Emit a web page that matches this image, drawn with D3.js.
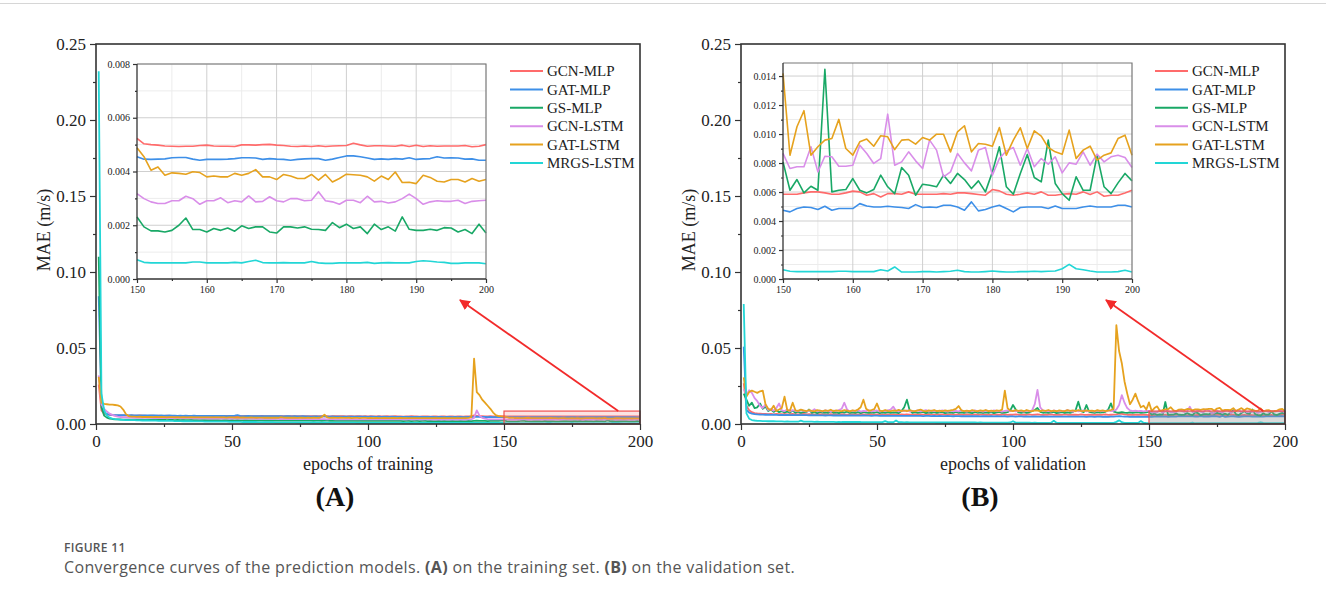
<!DOCTYPE html>
<html>
<head>
<meta charset="utf-8">
<script src="https://cdn.jsdelivr.net/npm/d3@7"></script>
<style>
  body { margin: 0; background: #fff; }
  svg { display: block; }
</style>
</head>
<body>
<svg id="fig" width="1326" height="603"></svg>
<script>
// ---- categories, ticks and labels ----
const seriesNames = ["GCN-MLP", "GAT-MLP", "GS-MLP", "GCN-LSTM", "GAT-LSTM", "MRGS-LSTM"];
const seriesColors = ["#ff6b6b", "#3d8fe8", "#19a866", "#d98ee9", "#e6a21e", "#22d6d6"];
const mainXTicks = [0, 50, 100, 150, 200];
const mainXMinor = [25, 75, 125, 175];
const mainYTicks = [0, 0.05, 0.10, 0.15, 0.20, 0.25];
const mainYMinor = [0.025, 0.075, 0.125, 0.175, 0.225];
const insetXTicks = [150, 160, 170, 180, 190, 200];
const insetXMinor = [155, 165, 175, 185, 195];
const insetYTicksA = [0, 0.002, 0.004, 0.006, 0.008];
const insetYMinorA = [0.001, 0.003, 0.005, 0.007];
const insetYTicksB = [0, 0.002, 0.004, 0.006, 0.008, 0.010, 0.012, 0.014];
const insetYMinorB = [0.001, 0.003, 0.005, 0.007, 0.009, 0.011, 0.013];
const epochs = d3.range(1, 201); // epoch numbers 1..200

// ---- MAE (m/s) per epoch, training set ----
const trainGcnMlp = [
0.0260,0.0090,0.0068,0.0062,0.0060,0.0058,0.0057,0.0057,0.0056,0.0056,
0.0056,0.0055,0.0056,0.0055,0.0055,0.0056,0.0055,0.0055,0.0054,0.0055,
0.0055,0.0054,0.0055,0.0054,0.0054,0.0055,0.0054,0.0054,0.0053,0.0054,
0.0054,0.0053,0.0054,0.0054,0.0053,0.0054,0.0053,0.0053,0.0054,0.0053,
0.0053,0.0053,0.0052,0.0053,0.0053,0.0052,0.0053,0.0053,0.0052,0.0053,
0.0052,0.0053,0.0052,0.0052,0.0053,0.0052,0.0052,0.0051,0.0052,0.0052,
0.0053,0.0052,0.0052,0.0051,0.0052,0.0052,0.0051,0.0052,0.0052,0.0051,
0.0052,0.0051,0.0052,0.0052,0.0051,0.0051,0.0052,0.0051,0.0051,0.0052,
0.0051,0.0051,0.0052,0.0051,0.0051,0.0050,0.0051,0.0051,0.0052,0.0051,
0.0051,0.0050,0.0051,0.0051,0.0050,0.0051,0.0051,0.0050,0.0051,0.0050,
0.0051,0.0050,0.0050,0.0051,0.0050,0.0050,0.0051,0.0050,0.0050,0.0051,
0.0050,0.0050,0.0049,0.0050,0.0050,0.0051,0.0050,0.0050,0.0049,0.0050,
0.0050,0.0050,0.0049,0.0050,0.0050,0.0049,0.0050,0.0050,0.0049,0.0050,
0.0050,0.0049,0.0050,0.0050,0.0049,0.0050,0.0050,0.0051,0.0056,0.0054,
0.0052,0.0051,0.0050,0.0050,0.0051,0.0050,0.0050,0.0051,0.0051,
0.00523,0.00503,0.00500,0.00498,0.00495,0.00494,0.00493,0.00494,0.00494,0.00497,
0.00498,0.00495,0.00494,0.00494,0.00493,0.00499,0.00499,0.00498,0.00500,0.00501,
0.00498,0.00497,0.00494,0.00493,0.00495,0.00493,0.00496,0.00493,0.00495,0.00496,
0.00497,0.00505,0.00499,0.00494,0.00496,0.00496,0.00495,0.00494,0.00498,0.00493,
0.00498,0.00493,0.00496,0.00494,0.00495,0.00495,0.00495,0.00497,0.00492,0.00494,0.00500];

const trainGatMlp = [
0.0840,0.0130,0.0078,0.0066,0.0062,0.0060,0.0059,0.0059,0.0058,0.0058,
0.0058,0.0057,0.0058,0.0057,0.0057,0.0057,0.0056,0.0057,0.0056,0.0056,
0.0056,0.0056,0.0055,0.0056,0.0055,0.0055,0.0056,0.0055,0.0055,0.0054,
0.0055,0.0054,0.0055,0.0054,0.0054,0.0055,0.0054,0.0054,0.0053,0.0054,
0.0053,0.0054,0.0053,0.0053,0.0054,0.0053,0.0053,0.0052,0.0053,0.0053,
0.0055,0.0058,0.0053,0.0052,0.0052,0.0053,0.0052,0.0052,0.0051,0.0052,
0.0052,0.0051,0.0052,0.0051,0.0051,0.0052,0.0051,0.0051,0.0050,0.0051,
0.0051,0.0050,0.0051,0.0050,0.0050,0.0051,0.0050,0.0050,0.0049,0.0050,
0.0050,0.0049,0.0050,0.0050,0.0049,0.0049,0.0050,0.0049,0.0049,0.0048,
0.0049,0.0049,0.0048,0.0049,0.0048,0.0048,0.0049,0.0048,0.0048,0.0047,
0.0048,0.0048,0.0047,0.0048,0.0047,0.0048,0.0047,0.0047,0.0048,0.0047,
0.0047,0.0046,0.0047,0.0047,0.0046,0.0047,0.0046,0.0046,0.0047,0.0046,
0.0046,0.0047,0.0046,0.0046,0.0045,0.0046,0.0046,0.0045,0.0046,0.0046,
0.0045,0.0046,0.0045,0.0046,0.0045,0.0045,0.0046,0.0046,0.0047,0.0048,
0.0047,0.0046,0.0046,0.0045,0.0046,0.0045,0.0045,0.0046,0.0045,
0.00455,0.00446,0.00445,0.00446,0.00447,0.00451,0.00452,0.00452,0.00446,0.00442,
0.00445,0.00445,0.00445,0.00446,0.00448,0.00451,0.00451,0.00450,0.00445,0.00448,
0.00446,0.00445,0.00442,0.00445,0.00447,0.00448,0.00448,0.00442,0.00446,0.00452,
0.00458,0.00458,0.00455,0.00450,0.00445,0.00447,0.00445,0.00448,0.00446,0.00451,
0.00445,0.00447,0.00448,0.00455,0.00450,0.00451,0.00450,0.00446,0.00447,0.00442,0.00442];

const trainGsMlp = [
0.1100,0.0110,0.0055,0.0042,0.0036,0.0033,0.0031,0.0030,0.0030,0.0029,
0.0029,0.0028,0.0029,0.0028,0.0028,0.0029,0.0028,0.0027,0.0028,0.0028,
0.0027,0.0028,0.0027,0.0027,0.0028,0.0026,0.0027,0.0027,0.0026,0.0027,
0.0026,0.0027,0.0026,0.0026,0.0027,0.0025,0.0026,0.0026,0.0025,0.0026,
0.0025,0.0026,0.0025,0.0025,0.0026,0.0024,0.0025,0.0025,0.0024,0.0025,
0.0024,0.0025,0.0024,0.0024,0.0025,0.0023,0.0024,0.0024,0.0023,0.0024,
0.0024,0.0023,0.0024,0.0023,0.0023,0.0024,0.0022,0.0023,0.0023,0.0022,
0.0023,0.0023,0.0022,0.0023,0.0022,0.0022,0.0023,0.0022,0.0022,0.0021,
0.0022,0.0022,0.0021,0.0022,0.0022,0.0021,0.0022,0.0021,0.0021,0.0022,
0.0021,0.0021,0.0022,0.0020,0.0021,0.0021,0.0020,0.0021,0.0021,0.0020,
0.0021,0.0020,0.0021,0.0020,0.0020,0.0021,0.0020,0.0020,0.0021,0.0020,
0.0020,0.0021,0.0019,0.0020,0.0020,0.0019,0.0020,0.0020,0.0019,0.0020,
0.0020,0.0019,0.0020,0.0019,0.0019,0.0020,0.0019,0.0020,0.0019,0.0019,
0.0020,0.0019,0.0019,0.0020,0.0019,0.0019,0.0020,0.0019,0.0021,0.0022,
0.0021,0.0020,0.0020,0.0019,0.0020,0.0021,0.0020,0.0021,0.0022,
0.00231,0.00194,0.00179,0.00179,0.00175,0.00181,0.00200,0.00227,0.00184,0.00184,
0.00175,0.00188,0.00181,0.00190,0.00178,0.00198,0.00188,0.00194,0.00194,0.00175,
0.00171,0.00194,0.00194,0.00190,0.00194,0.00185,0.00184,0.00181,0.00210,0.00191,
0.00204,0.00188,0.00194,0.00169,0.00204,0.00184,0.00194,0.00178,0.00231,0.00185,
0.00181,0.00181,0.00185,0.00181,0.00191,0.00190,0.00175,0.00184,0.00169,0.00204,0.00171];

const trainGcnLstm = [
0.0320,0.0130,0.0100,0.0082,0.0068,0.0060,0.0053,0.0048,0.0046,0.0044,
0.0043,0.0042,0.0042,0.0041,0.0041,0.0042,0.0040,0.0040,0.0041,0.0040,
0.0039,0.0040,0.0039,0.0039,0.0040,0.0038,0.0039,0.0038,0.0039,0.0038,
0.0038,0.0037,0.0038,0.0038,0.0037,0.0038,0.0037,0.0036,0.0037,0.0037,
0.0036,0.0037,0.0036,0.0036,0.0037,0.0035,0.0036,0.0036,0.0035,0.0036,
0.0035,0.0036,0.0035,0.0035,0.0034,0.0035,0.0035,0.0034,0.0035,0.0034,
0.0034,0.0035,0.0034,0.0034,0.0033,0.0034,0.0034,0.0033,0.0034,0.0033,
0.0033,0.0034,0.0033,0.0033,0.0032,0.0033,0.0033,0.0032,0.0033,0.0032,
0.0032,0.0033,0.0032,0.0032,0.0031,0.0032,0.0032,0.0031,0.0032,0.0031,
0.0031,0.0032,0.0031,0.0031,0.0032,0.0030,0.0031,0.0031,0.0030,0.0031,
0.0031,0.0030,0.0031,0.0030,0.0030,0.0031,0.0030,0.0030,0.0031,0.0030,
0.0030,0.0031,0.0030,0.0029,0.0030,0.0030,0.0029,0.0030,0.0030,0.0029,
0.0030,0.0030,0.0029,0.0030,0.0029,0.0029,0.0030,0.0029,0.0030,0.0029,
0.0029,0.0030,0.0029,0.0030,0.0029,0.0029,0.0030,0.0031,0.0040,0.0090,
0.0055,0.0040,0.0035,0.0032,0.0031,0.0030,0.0031,0.0030,0.0031,
0.00318,0.00299,0.00287,0.00281,0.00281,0.00291,0.00291,0.00308,0.00299,0.00278,
0.00291,0.00291,0.00302,0.00284,0.00291,0.00287,0.00309,0.00287,0.00289,0.00306,
0.00291,0.00287,0.00299,0.00299,0.00291,0.00293,0.00325,0.00291,0.00287,0.00278,
0.00293,0.00293,0.00284,0.00308,0.00287,0.00289,0.00283,0.00287,0.00299,0.00316,
0.00299,0.00278,0.00287,0.00291,0.00289,0.00289,0.00293,0.00281,0.00289,0.00291,0.00293];

const trainGatLstm = [
0.0310,0.0140,0.0132,0.0130,0.0128,0.0127,0.0125,0.0122,0.0115,0.0095,
0.0065,0.0052,0.0049,0.0048,0.0047,0.0048,0.0046,0.0047,0.0046,0.0046,
0.0045,0.0046,0.0045,0.0046,0.0045,0.0044,0.0045,0.0045,0.0044,0.0045,
0.0044,0.0045,0.0044,0.0044,0.0045,0.0043,0.0044,0.0044,0.0043,0.0044,
0.0043,0.0044,0.0043,0.0044,0.0043,0.0043,0.0044,0.0042,0.0043,0.0043,
0.0042,0.0043,0.0042,0.0043,0.0042,0.0042,0.0043,0.0042,0.0041,0.0042,
0.0042,0.0041,0.0042,0.0041,0.0042,0.0041,0.0041,0.0045,0.0042,0.0041,
0.0041,0.0042,0.0041,0.0040,0.0041,0.0041,0.0040,0.0041,0.0040,0.0041,
0.0040,0.0041,0.0046,0.0062,0.0044,0.0040,0.0041,0.0040,0.0040,0.0041,
0.0040,0.0040,0.0041,0.0039,0.0040,0.0040,0.0039,0.0040,0.0040,0.0039,
0.0040,0.0039,0.0040,0.0039,0.0039,0.0040,0.0039,0.0039,0.0040,0.0039,
0.0039,0.0040,0.0039,0.0038,0.0039,0.0039,0.0038,0.0039,0.0039,0.0038,
0.0039,0.0038,0.0039,0.0038,0.0038,0.0039,0.0038,0.0039,0.0038,0.0038,
0.0039,0.0038,0.0038,0.0039,0.0038,0.0039,0.0040,0.0045,0.0430,0.0210,
0.0190,0.0160,0.0140,0.0120,0.0100,0.0075,0.0058,0.0052,0.0050,
0.00488,0.00455,0.00405,0.00417,0.00386,0.00395,0.00393,0.00390,0.00399,0.00396,
0.00380,0.00383,0.00380,0.00380,0.00393,0.00386,0.00393,0.00407,0.00380,0.00380,
0.00370,0.00389,0.00383,0.00374,0.00374,0.00389,0.00368,0.00389,0.00361,0.00374,
0.00390,0.00388,0.00386,0.00380,0.00364,0.00383,0.00370,0.00398,0.00359,0.00360,
0.00355,0.00386,0.00378,0.00364,0.00361,0.00370,0.00370,0.00361,0.00374,0.00364,0.00370];

const trainMrgsLstm = [
0.2320,0.0200,0.0090,0.0055,0.0042,0.0036,0.0032,0.0030,0.0028,0.0027,
0.0026,0.0026,0.0025,0.0025,0.0024,0.0024,0.0023,0.0023,0.0023,0.0022,
0.0022,0.0022,0.0021,0.0021,0.0021,0.0020,0.0020,0.0020,0.0019,0.0019,
0.0019,0.0018,0.0018,0.0018,0.0018,0.0017,0.0017,0.0017,0.0017,0.0016,
0.0016,0.0016,0.0016,0.0015,0.0015,0.0015,0.0015,0.0015,0.0014,0.0014,
0.0014,0.0014,0.0014,0.0013,0.0013,0.0013,0.0013,0.0013,0.0013,0.0012,
0.0012,0.0012,0.0012,0.0012,0.0012,0.0011,0.0011,0.0011,0.0011,0.0011,
0.0011,0.0011,0.0011,0.0010,0.0010,0.0010,0.0010,0.0010,0.0010,0.0010,
0.0010,0.0010,0.0009,0.0010,0.0009,0.0009,0.0009,0.0009,0.0009,0.0009,
0.0009,0.0009,0.0009,0.0009,0.0009,0.0008,0.0009,0.0008,0.0008,0.0008,
0.0008,0.0008,0.0008,0.0008,0.0008,0.0008,0.0008,0.0008,0.0008,0.0008,
0.0008,0.0008,0.0008,0.0007,0.0008,0.0008,0.0008,0.0007,0.0008,0.0008,
0.0007,0.0008,0.0007,0.0008,0.0007,0.0008,0.0007,0.0007,0.0008,0.0007,
0.0007,0.0008,0.0007,0.0007,0.0008,0.0007,0.0007,0.0007,0.0008,0.0008,
0.0007,0.0007,0.0008,0.0007,0.0007,0.0007,0.0007,0.0008,0.0007,
0.00072,0.00062,0.00060,0.00060,0.00060,0.00060,0.00060,0.00060,0.00063,0.00063,
0.00060,0.00060,0.00060,0.00060,0.00062,0.00060,0.00065,0.00070,0.00061,0.00060,
0.00060,0.00061,0.00060,0.00060,0.00060,0.00065,0.00060,0.00058,0.00058,0.00060,
0.00060,0.00060,0.00060,0.00062,0.00058,0.00060,0.00061,0.00060,0.00060,0.00060,
0.00065,0.00068,0.00066,0.00063,0.00062,0.00058,0.00058,0.00060,0.00060,0.00060,0.00057];

// ---- MAE (m/s) per epoch, validation set ----
const valGcnMlp = [
0.0268,0.0120,0.0090,0.0078,0.0072,0.0069,0.0068,0.0066,0.0067,0.0065,
0.0066,0.0064,0.0067,0.0065,0.0064,0.0066,0.0063,0.0065,0.0066,0.0064,
0.0063,0.0065,0.0066,0.0063,0.0064,0.0065,0.0062,0.0064,0.0065,0.0063,
0.0064,0.0062,0.0065,0.0063,0.0064,0.0062,0.0065,0.0063,0.0062,0.0064,
0.0063,0.0065,0.0062,0.0063,0.0064,0.0061,0.0063,0.0064,0.0062,0.0063,
0.0062,0.0064,0.0061,0.0063,0.0062,0.0064,0.0062,0.0061,0.0063,0.0062,
0.0064,0.0061,0.0062,0.0063,0.0061,0.0064,0.0062,0.0061,0.0063,0.0062,
0.0061,0.0063,0.0062,0.0064,0.0061,0.0062,0.0063,0.0061,0.0062,0.0064,
0.0062,0.0061,0.0063,0.0062,0.0060,0.0063,0.0061,0.0062,0.0064,0.0061,
0.0062,0.0060,0.0063,0.0061,0.0062,0.0061,0.0063,0.0060,0.0062,0.0061,
0.0063,0.0061,0.0060,0.0062,0.0061,0.0063,0.0060,0.0062,0.0064,0.0061,
0.0060,0.0062,0.0061,0.0063,0.0060,0.0061,0.0062,0.0060,0.0063,0.0061,
0.0060,0.0062,0.0061,0.0060,0.0063,0.0061,0.0060,0.0062,0.0061,0.0060,
0.0062,0.0060,0.0061,0.0063,0.0060,0.0061,0.0062,0.0064,0.0068,0.0066,
0.0063,0.0061,0.0062,0.0060,0.0061,0.0062,0.0060,0.0061,0.0060,
0.00585,0.00585,0.00585,0.00594,0.00601,0.00601,0.00594,0.00585,0.00585,0.00594,
0.00606,0.00601,0.00578,0.00589,0.00566,0.00589,0.00589,0.00585,0.00601,0.00585,
0.00585,0.00585,0.00585,0.00589,0.00585,0.00594,0.00594,0.00589,0.00583,0.00578,
0.00617,0.00608,0.00585,0.00578,0.00585,0.00594,0.00585,0.00601,0.00578,0.00578,
0.00585,0.00589,0.00585,0.00601,0.00583,0.00601,0.00571,0.00578,0.00578,0.00594,0.00612];

const valGatMlp = [
0.0509,0.0092,0.0075,0.0068,0.0065,0.0063,0.0062,0.0062,0.0061,0.0061,
0.0060,0.0061,0.0060,0.0059,0.0060,0.0059,0.0060,0.0059,0.0058,0.0059,
0.0058,0.0059,0.0058,0.0058,0.0057,0.0058,0.0057,0.0058,0.0057,0.0057,
0.0056,0.0057,0.0057,0.0056,0.0057,0.0056,0.0056,0.0057,0.0055,0.0056,
0.0056,0.0055,0.0056,0.0055,0.0056,0.0055,0.0055,0.0054,0.0055,0.0055,
0.0054,0.0055,0.0054,0.0055,0.0054,0.0054,0.0053,0.0054,0.0054,0.0053,
0.0054,0.0053,0.0054,0.0053,0.0053,0.0054,0.0052,0.0053,0.0053,0.0052,
0.0053,0.0052,0.0053,0.0052,0.0052,0.0053,0.0052,0.0051,0.0052,0.0052,
0.0051,0.0052,0.0051,0.0052,0.0051,0.0051,0.0052,0.0050,0.0051,0.0051,
0.0050,0.0051,0.0050,0.0051,0.0050,0.0050,0.0051,0.0049,0.0050,0.0050,
0.0049,0.0050,0.0050,0.0049,0.0050,0.0049,0.0049,0.0050,0.0049,0.0049,
0.0050,0.0048,0.0049,0.0049,0.0048,0.0049,0.0049,0.0048,0.0049,0.0048,
0.0048,0.0049,0.0048,0.0048,0.0049,0.0048,0.0047,0.0048,0.0048,0.0047,
0.0048,0.0048,0.0047,0.0048,0.0047,0.0048,0.0048,0.0050,0.0052,0.0050,
0.0049,0.0048,0.0047,0.0048,0.0047,0.0048,0.0047,0.0047,0.0048,
0.00474,0.00463,0.00486,0.00497,0.00493,0.00479,0.00502,0.00474,0.00486,0.00486,
0.00486,0.00520,0.00504,0.00497,0.00497,0.00502,0.00497,0.00493,0.00486,0.00513,
0.00493,0.00497,0.00493,0.00509,0.00509,0.00497,0.00474,0.00532,0.00470,0.00479,
0.00497,0.00509,0.00486,0.00463,0.00493,0.00497,0.00497,0.00497,0.00486,0.00504,
0.00486,0.00486,0.00486,0.00497,0.00504,0.00497,0.00497,0.00497,0.00509,0.00509,0.00497];

const valGsMlp = [
0.0200,0.0160,0.0120,0.0140,0.0105,0.0110,0.0135,0.0100,0.0115,0.0085,
0.0095,0.0080,0.0090,0.0078,0.0085,0.0076,0.0082,0.0075,0.0088,0.0074,
0.0080,0.0073,0.0079,0.0076,0.0095,0.0074,0.0078,0.0072,0.0080,0.0075,
0.0077,0.0073,0.0082,0.0074,0.0076,0.0072,0.0079,0.0075,0.0081,0.0073,
0.0076,0.0074,0.0078,0.0072,0.0080,0.0075,0.0073,0.0077,0.0074,0.0079,
0.0072,0.0076,0.0074,0.0078,0.0073,0.0077,0.0075,0.0072,0.0085,0.0110,
0.0160,0.0090,0.0074,0.0078,0.0073,0.0076,0.0080,0.0072,0.0077,0.0074,
0.0078,0.0073,0.0076,0.0079,0.0072,0.0075,0.0077,0.0073,0.0080,0.0074,
0.0076,0.0073,0.0078,0.0075,0.0072,0.0079,0.0074,0.0077,0.0073,0.0076,
0.0074,0.0078,0.0072,0.0076,0.0080,0.0073,0.0075,0.0078,0.0090,0.0125,
0.0095,0.0076,0.0073,0.0078,0.0074,0.0077,0.0085,0.0092,0.0105,0.0080,
0.0074,0.0077,0.0073,0.0076,0.0079,0.0072,0.0075,0.0078,0.0074,0.0077,
0.0073,0.0079,0.0090,0.0147,0.0085,0.0078,0.0125,0.0080,0.0076,0.0074,
0.0078,0.0075,0.0077,0.0080,0.0095,0.0136,0.0082,0.0076,0.0074,0.0078,
0.0075,0.0073,0.0077,0.0074,0.0076,0.0078,0.0073,0.0075,0.0077,
0.00808,0.00612,0.00686,0.00594,0.00640,0.00612,0.01446,0.00601,0.00612,0.00617,
0.00693,0.00612,0.00594,0.00617,0.00716,0.00636,0.00589,0.00769,0.00716,0.00578,
0.00654,0.00647,0.00636,0.00716,0.00659,0.00728,0.00686,0.00624,0.00677,0.00601,
0.00739,0.00912,0.00636,0.00585,0.00728,0.00859,0.00700,0.00670,0.00958,0.00659,
0.00589,0.00543,0.00705,0.00612,0.00612,0.00854,0.00636,0.00589,0.00663,0.00728,0.00677];

const valGcnLstm = [
0.0230,0.0190,0.0222,0.0205,0.0170,0.0150,0.0120,0.0105,0.0128,0.0092,
0.0098,0.0088,0.0105,0.0135,0.0090,0.0085,0.0095,0.0082,0.0091,0.0087,
0.0083,0.0092,0.0086,0.0081,0.0089,0.0084,0.0097,0.0083,0.0088,0.0082,
0.0090,0.0085,0.0081,0.0088,0.0084,0.0092,0.0100,0.0140,0.0095,0.0083,
0.0088,0.0084,0.0091,0.0082,0.0087,0.0085,0.0090,0.0083,0.0086,0.0089,
0.0082,0.0087,0.0084,0.0090,0.0095,0.0114,0.0086,0.0083,0.0088,0.0085,
0.0090,0.0082,0.0087,0.0084,0.0089,0.0083,0.0086,0.0091,0.0082,0.0088,
0.0084,0.0087,0.0083,0.0090,0.0085,0.0082,0.0088,0.0084,0.0086,0.0083,
0.0089,0.0085,0.0082,0.0087,0.0084,0.0090,0.0083,0.0086,0.0082,0.0088,
0.0085,0.0083,0.0089,0.0084,0.0087,0.0082,0.0086,0.0090,0.0084,0.0088,
0.0083,0.0087,0.0085,0.0082,0.0088,0.0084,0.0090,0.0130,0.0225,0.0110,
0.0088,0.0084,0.0086,0.0082,0.0089,0.0085,0.0083,0.0087,0.0084,0.0091,
0.0085,0.0082,0.0088,0.0084,0.0086,0.0090,0.0083,0.0087,0.0085,0.0082,
0.0088,0.0084,0.0086,0.0083,0.0090,0.0085,0.0087,0.0095,0.0125,0.0190,
0.0140,0.0105,0.0090,0.0085,0.0088,0.0084,0.0087,0.0083,0.0086,
0.00866,0.00762,0.00774,0.00774,0.00912,0.00739,0.00847,0.00843,0.00778,0.00778,
0.00785,0.00923,0.00866,0.00797,0.00831,0.01137,0.00785,0.00808,0.00877,0.00815,
0.00762,0.00958,0.00889,0.00705,0.00739,0.00866,0.00801,0.00746,0.00889,0.00907,
0.00716,0.00831,0.00884,0.00907,0.00785,0.00900,0.00774,0.00831,0.00792,0.00843,
0.00732,0.00801,0.00792,0.00877,0.00785,0.00861,0.00808,0.00843,0.00854,0.00838,0.00769];

const valGatLstm = [
0.0307,0.0180,0.0210,0.0220,0.0212,0.0205,0.0215,0.0220,0.0130,0.0100,
0.0092,0.0120,0.0085,0.0095,0.0105,0.0180,0.0092,0.0088,0.0140,0.0090,
0.0086,0.0095,0.0089,0.0084,0.0092,0.0087,0.0083,0.0091,0.0088,0.0085,
0.0090,0.0086,0.0094,0.0084,0.0089,0.0087,0.0085,0.0091,0.0088,0.0083,
0.0090,0.0086,0.0095,0.0110,0.0160,0.0100,0.0087,0.0092,0.0098,0.0135,
0.0088,0.0085,0.0092,0.0087,0.0084,0.0090,0.0086,0.0093,0.0085,0.0089,
0.0084,0.0091,0.0087,0.0085,0.0090,0.0095,0.0086,0.0083,0.0089,0.0087,
0.0092,0.0085,0.0088,0.0084,0.0090,0.0086,0.0089,0.0093,0.0100,0.0118,
0.0090,0.0085,0.0088,0.0084,0.0091,0.0087,0.0085,0.0090,0.0086,0.0092,
0.0085,0.0088,0.0084,0.0090,0.0087,0.0095,0.0220,0.0105,0.0088,0.0085,
0.0091,0.0086,0.0089,0.0084,0.0092,0.0087,0.0085,0.0090,0.0088,0.0084,
0.0089,0.0086,0.0092,0.0085,0.0088,0.0084,0.0090,0.0087,0.0085,0.0091,
0.0086,0.0089,0.0084,0.0092,0.0087,0.0085,0.0090,0.0086,0.0088,0.0084,
0.0091,0.0086,0.0089,0.0085,0.0088,0.0092,0.0100,0.0650,0.0480,0.0400,
0.0280,0.0200,0.0130,0.0160,0.0200,0.0150,0.0110,0.0120,0.0095,
0.01418,0.00854,0.01050,0.01161,0.00854,0.00912,0.00958,0.00969,0.01101,0.00900,
0.00854,0.00946,0.00965,0.00916,0.00988,0.00981,0.00893,0.00958,0.00962,0.00930,
0.00976,0.00958,0.00999,0.00999,0.00877,0.01015,0.01057,0.00877,0.00935,0.00930,
0.00916,0.01045,0.00854,0.00958,0.01043,0.00900,0.01022,0.00986,0.00907,0.00877,
0.00861,0.01027,0.00831,0.00889,0.00916,0.00820,0.00854,0.00870,0.00969,0.00992,0.00854];

const valMrgsLstm = [
0.0790,0.0070,0.0035,0.0026,0.0023,0.0021,0.0020,0.0019,0.0019,0.0018,
0.0018,0.0018,0.0017,0.0017,0.0017,0.0016,0.0017,0.0016,0.0016,0.0016,
0.0015,0.0022,0.0016,0.0015,0.0015,0.0015,0.0014,0.0015,0.0014,0.0014,
0.0014,0.0014,0.0014,0.0014,0.0013,0.0014,0.0013,0.0013,0.0013,0.0013,
0.0013,0.0013,0.0013,0.0013,0.0012,0.0013,0.0012,0.0012,0.0012,0.0012,
0.0012,0.0012,0.0019,0.0012,0.0012,0.0012,0.0023,0.0012,0.0012,0.0011,
0.0012,0.0011,0.0011,0.0011,0.0011,0.0011,0.0011,0.0011,0.0011,0.0011,
0.0011,0.0010,0.0011,0.0010,0.0011,0.0010,0.0010,0.0010,0.0010,0.0010,
0.0010,0.0010,0.0010,0.0010,0.0010,0.0010,0.0009,0.0010,0.0009,0.0009,
0.0009,0.0009,0.0009,0.0009,0.0009,0.0009,0.0009,0.0009,0.0010,0.0018,
0.0009,0.0009,0.0009,0.0009,0.0009,0.0009,0.0008,0.0009,0.0008,0.0008,
0.0008,0.0008,0.0008,0.0009,0.0021,0.0009,0.0008,0.0008,0.0008,0.0008,
0.0008,0.0008,0.0008,0.0008,0.0008,0.0008,0.0008,0.0008,0.0008,0.0008,
0.0008,0.0008,0.0007,0.0008,0.0007,0.0008,0.0008,0.0014,0.0024,0.0012,
0.0008,0.0007,0.0007,0.0007,0.0007,0.0007,0.0019,0.0008,0.0007,
0.00064,0.00053,0.00051,0.00051,0.00051,0.00051,0.00051,0.00051,0.00053,0.00053,
0.00051,0.00051,0.00051,0.00051,0.00064,0.00055,0.00083,0.00048,0.00048,0.00048,
0.00051,0.00051,0.00048,0.00051,0.00053,0.00060,0.00051,0.00048,0.00048,0.00051,
0.00055,0.00051,0.00048,0.00048,0.00051,0.00051,0.00053,0.00051,0.00053,0.00055,
0.00071,0.00101,0.00071,0.00064,0.00055,0.00048,0.00048,0.00048,0.00051,0.00060,0.00048];

const trainSeries = [trainGcnMlp, trainGatMlp, trainGsMlp, trainGcnLstm, trainGatLstm, trainMrgsLstm];
const valSeries = [valGcnMlp, valGatMlp, valGsMlp, valGcnLstm, valGatLstm, valMrgsLstm];

// ---- drawing ----
const svg = d3.select("#fig");
const serif = '"Liberation Serif", "Times New Roman", serif';
const sans = '"Open Sans", "Noto Sans", sans-serif';

// thin rule along the top of the page
svg.append("line").attr("x1", 0).attr("x2", 1326).attr("y1", 3.5).attr("y2", 3.5)
  .attr("stroke", "#d6d6d6").attr("stroke-width", 1);

const defs = svg.append("defs");
defs.append("marker").attr("id", "arrowhead")
  .attr("viewBox", "0 0 10 10").attr("refX", 9).attr("refY", 5)
  .attr("markerWidth", 6).attr("markerHeight", 6).attr("markerUnits", "strokeWidth")
  .attr("orient", "auto-start-reverse")
  .append("path").attr("d", "M0,0 L10,5 L0,10 z").attr("fill", "#f22b2b");

function styleAxis(sel, fontSize) {
  sel.select(".domain").remove();
  sel.selectAll(".tick line").attr("stroke", "#333").attr("stroke-width", 1.2);
  sel.selectAll(".tick text").attr("fill", "#222")
    .style("font-family", serif).style("font-size", fontSize + "px");
}

function drawPanel(p) {
  const g = svg.append("g");
  const x = d3.scaleLinear().domain([0, 200]).range([p.left, p.right]);
  const y = d3.scaleLinear().domain([0, 0.25]).range([p.bottom, p.top]);

  const clipId = "clip-" + p.key;
  defs.append("clipPath").attr("id", clipId).append("rect")
    .attr("x", p.left).attr("y", p.top).attr("width", p.right - p.left).attr("height", p.bottom - p.top);

  // full-range curves
  const line = d3.line().x((d, i) => x(epochs[i])).y(d => y(d)).curve(d3.curveLinear);
  const lg = g.append("g").attr("clip-path", `url(#${clipId})`);
  p.series.forEach((vals, k) => {
    lg.append("path").attr("d", line(vals)).attr("fill", "none")
      .attr("stroke", seriesColors[k]).attr("stroke-width", 1.8).attr("stroke-linejoin", "round");
  });

  // highlighted zoom window (epochs 150-200)
  g.append("rect")
    .attr("x", x(150)).attr("y", y(p.windowMax))
    .attr("width", x(200) - x(150)).attr("height", y(0) - y(p.windowMax))
    .attr("fill", p.windowFill).attr("stroke", "#f05050").attr("stroke-width", 1.2);

  // axes
  const ax = g.append("g").attr("transform", `translate(0,${p.bottom})`)
    .call(d3.axisBottom(x).tickValues(mainXTicks).tickSize(6).tickPadding(5).tickFormat(d3.format("d")));
  styleAxis(ax, 17);
  const axm = g.append("g").attr("transform", `translate(0,${p.bottom})`)
    .call(d3.axisBottom(x).tickValues(mainXMinor).tickSize(3).tickFormat(""));
  styleAxis(axm, 17);
  const ay = g.append("g").attr("transform", `translate(${p.left},0)`)
    .call(d3.axisLeft(y).tickValues(mainYTicks).tickSize(6).tickPadding(4).tickFormat(d3.format(".2f")));
  styleAxis(ay, 17);
  const aym = g.append("g").attr("transform", `translate(${p.left},0)`)
    .call(d3.axisLeft(y).tickValues(mainYMinor).tickSize(3).tickFormat(""));
  styleAxis(aym, 17);

  // frame
  g.append("rect").attr("x", p.left).attr("y", p.top)
    .attr("width", p.right - p.left).attr("height", p.bottom - p.top)
    .attr("fill", "none").attr("stroke", "#333").attr("stroke-width", 1.6);

  // axis titles
  g.append("text").attr("x", (p.left + p.right) / 2).attr("y", p.bottom + 46)
    .attr("text-anchor", "middle").style("font-family", serif).style("font-size", "18px")
    .attr("fill", "#222").text(p.xTitle);
  g.append("text").attr("transform", `translate(${p.left - 46},${(p.top + p.bottom) / 2 - 4}) rotate(-90)`)
    .attr("text-anchor", "middle").style("font-family", serif).style("font-size", "18px")
    .attr("fill", "#222").text("MAE (m/s)");

  // panel letter
  g.append("text").attr("x", p.letterX).attr("y", p.bottom + 82)
    .attr("text-anchor", "middle").style("font-family", serif).style("font-size", "28px")
    .style("font-weight", "bold").attr("fill", "#111").text(p.letter);

  // legend
  const legX = p.right - 130;
  seriesNames.forEach((name, k) => {
    const ly = p.top + 27 + k * 18.4;
    g.append("line").attr("x1", legX).attr("x2", legX + 33).attr("y1", ly).attr("y2", ly)
      .attr("stroke", seriesColors[k]).attr("stroke-width", 2);
    g.append("text").attr("x", legX + 37).attr("y", ly).attr("dy", "0.35em")
      .style("font-family", serif).style("font-size", "15px").attr("fill", "#222").text(name);
  });

  // inset: epochs 150-200
  const ins = p.inset;
  const xi = d3.scaleLinear().domain([150, 200]).range([ins.left, ins.right]);
  const yi = d3.scaleLinear().domain([0, ins.max]).range([ins.bottom, ins.top]);
  const ig = g.append("g");
  ig.append("rect").attr("x", ins.left).attr("y", ins.top)
    .attr("width", ins.right - ins.left).attr("height", ins.bottom - ins.top).attr("fill", "#fff");
  // grid
  ig.selectAll(".gxm").data(insetXMinor).join("line")
    .attr("x1", d => xi(d)).attr("x2", d => xi(d)).attr("y1", ins.top).attr("y2", ins.bottom)
    .attr("stroke", "#ececec").attr("stroke-width", 1);
  ig.selectAll(".gym").data(ins.yMinor).join("line")
    .attr("x1", ins.left).attr("x2", ins.right).attr("y1", d => yi(d)).attr("y2", d => yi(d))
    .attr("stroke", "#ececec").attr("stroke-width", 1);
  ig.selectAll(".gx").data(insetXTicks.slice(1, -1)).join("line")
    .attr("x1", d => xi(d)).attr("x2", d => xi(d)).attr("y1", ins.top).attr("y2", ins.bottom)
    .attr("stroke", "#cfcfcf").attr("stroke-width", 1);
  ig.selectAll(".gy").data(ins.yTicks.slice(1)).join("line")
    .attr("x1", ins.left).attr("x2", ins.right).attr("y1", d => yi(d)).attr("y2", d => yi(d))
    .attr("stroke", "#cfcfcf").attr("stroke-width", 1);

  const iLine = d3.line().x((d, i) => xi(epochs[149 + i])).y(d => yi(d));
  p.series.forEach((vals, k) => {
    ig.append("path").attr("d", iLine(vals.slice(149))).attr("fill", "none")
      .attr("stroke", seriesColors[k]).attr("stroke-width", 1.6).attr("stroke-linejoin", "round");
  });

  // inset frame and axes
  ig.append("path")
    .attr("d", `M${ins.left},${ins.top} H${ins.right} V${ins.bottom}`)
    .attr("fill", "none").attr("stroke", "#777").attr("stroke-width", 1.2);
  const iax = ig.append("g").attr("transform", `translate(0,${ins.bottom})`)
    .call(d3.axisBottom(xi).tickValues(insetXTicks).tickSize(4).tickPadding(3).tickFormat(d3.format("d")));
  styleAxis(iax, 10);
  const iaxm = ig.append("g").attr("transform", `translate(0,${ins.bottom})`)
    .call(d3.axisBottom(xi).tickValues(insetXMinor).tickSize(2).tickFormat(""));
  styleAxis(iaxm, 10);
  const iay = ig.append("g").attr("transform", `translate(${ins.left},0)`)
    .call(d3.axisLeft(yi).tickValues(ins.yTicks).tickSize(4).tickPadding(3).tickFormat(d3.format(".3f")));
  styleAxis(iay, 10);
  const iaym = ig.append("g").attr("transform", `translate(${ins.left},0)`)
    .call(d3.axisLeft(yi).tickValues(ins.yMinor).tickSize(2).tickFormat(""));
  styleAxis(iaym, 10);
  ig.append("line").attr("x1", ins.left).attr("x2", ins.right).attr("y1", ins.bottom).attr("y2", ins.bottom)
    .attr("stroke", "#333").attr("stroke-width", 1.3);
  ig.append("line").attr("x1", ins.left).attr("x2", ins.left).attr("y1", ins.top).attr("y2", ins.bottom)
    .attr("stroke", "#333").attr("stroke-width", 1.3);

  // arrow from the highlighted window to the inset
  g.append("line")
    .attr("x1", x(192)).attr("y1", y(p.windowMax))
    .attr("x2", ins.right - 26).attr("y2", ins.bottom + 21)
    .attr("stroke", "#f22b2b").attr("stroke-width", 1.8)
    .attr("marker-end", "url(#arrowhead)");
}

drawPanel({
  key: "a", left: 96, right: 640, top: 44, bottom: 424,
  series: trainSeries, xTitle: "epochs of training", letter: "(A)", letterX: 335,
  windowMax: 0.0085, windowFill: "rgba(235,130,130,0.22)",
  inset: { left: 137, right: 486, top: 64, bottom: 279, max: 0.008,
           yTicks: insetYTicksA, yMinor: insetYMinorA }
});

drawPanel({
  key: "b", left: 741, right: 1285, top: 44, bottom: 424,
  series: valSeries, xTitle: "epochs of validation", letter: "(B)", letterX: 980,
  windowMax: 0.0085, windowFill: "rgba(150,150,150,0.35)",
  inset: { left: 783, right: 1132, top: 63, bottom: 279, max: 0.0149,
           yTicks: insetYTicksB, yMinor: insetYMinorB }
});

// caption
svg.append("text").attr("x", 64).attr("y", 552)
  .style("font-family", sans).style("font-size", "12px").style("font-weight", "600")
  .style("letter-spacing", "0.3px").attr("fill", "#555").text("FIGURE 11");
const cap = svg.append("text").attr("x", 64).attr("y", 573)
  .style("font-family", sans).style("font-size", "16px").style("letter-spacing", "0.35px")
  .attr("fill", "#555");
cap.append("tspan").text("Convergence curves of the prediction models. ");
cap.append("tspan").style("font-weight", "bold").text("(A)");
cap.append("tspan").text(" on the training set. ");
cap.append("tspan").style("font-weight", "bold").text("(B)");
cap.append("tspan").text(" on the validation set.");
</script>
</body>
</html>
